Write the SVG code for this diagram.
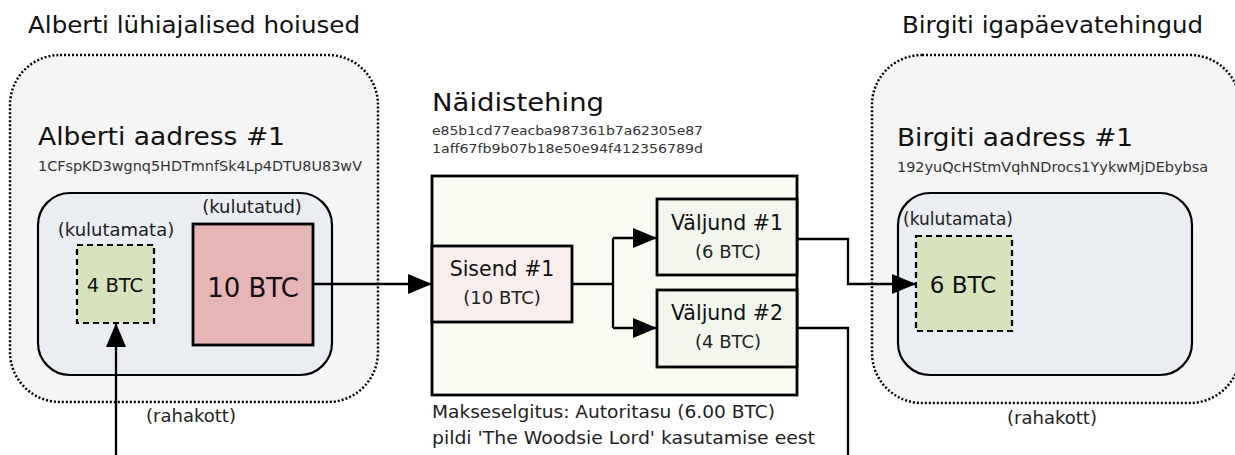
<svg xmlns="http://www.w3.org/2000/svg" width="1235" height="455" viewBox="0 0 1235 455">
<style>
text{font-family:"DejaVu Sans","Liberation Sans",sans-serif;fill:#111}
.h1{font-size:23px}
.h2{font-size:25px}
.addr{font-size:14px;fill:#333}
.lbl{font-size:18px;fill:#222}
.box{font-size:20.5px}
.sub{font-size:18px;fill:#222}
.wallet{fill:#f5f5f5;stroke:#000;stroke-width:2.5;stroke-dasharray:2 2}
.addrbox{fill:#eaedf2;stroke:#000;stroke-width:2.2}
.unspent{fill:#d6e3bc;stroke:#000;stroke-width:2.2;stroke-dasharray:6 4}
.spent{fill:#e6b5b5;stroke:#000;stroke-width:2.8}
.tx{fill:#fafaf2;stroke:#000;stroke-width:2.8}
.in{fill:#f9eded;stroke:#000;stroke-width:2.8}
.out{fill:#f3f6ed;stroke:#000;stroke-width:2.8}
.conn path{fill:none;stroke:#000;stroke-width:2.3}
</style>
<defs>
<marker id="arr" markerUnits="userSpaceOnUse" markerWidth="24" markerHeight="20" refX="24" refY="10" orient="auto">
<path d="M0,0 L24,10 L0,20 z" fill="#000"/>
</marker>
</defs>

<g id="albert-wallet">
<rect class="wallet" x="10" y="55" width="368" height="347" rx="50"/>
<text class="h1" x="28" y="33" textLength="332" lengthAdjust="spacingAndGlyphs">Alberti lühiajalised hoiused</text>
<text class="lbl" x="191" y="422" text-anchor="middle">(rahakott)</text>
</g>

<g id="albert-address">
<text class="h2" x="38" y="145" textLength="247" lengthAdjust="spacingAndGlyphs">Alberti aadress #1</text>
<text class="addr" x="38" y="171" textLength="324" lengthAdjust="spacingAndGlyphs">1CFspKD3wgnq5HDTmnfSk4Lp4DTU8U83wV</text>
<rect class="addrbox" x="38" y="193" width="294" height="182" rx="32"/>
</g>

<g id="albert-4btc">
<text class="lbl" x="116" y="236" text-anchor="middle">(kulutamata)</text>
<rect class="unspent" x="77" y="245" width="77" height="78"/>
<text x="115" y="292" text-anchor="middle" style="font-size:19.5px">4 BTC</text>
</g>

<g id="albert-10btc">
<text class="lbl" x="252" y="213" text-anchor="middle">(kulutatud)</text>
<rect class="spent" x="193" y="224" width="120" height="121"/>
<text x="253" y="297" text-anchor="middle" style="font-size:26px">10 BTC</text>
</g>

<g id="transaction">
<rect class="tx" x="432" y="176" width="365" height="219"/>
<text x="432" y="111" style="font-size:24px" textLength="172" lengthAdjust="spacingAndGlyphs">Näidistehing</text>
<text class="addr" x="432" y="135" style="font-size:13px" textLength="271" lengthAdjust="spacingAndGlyphs">e85b1cd77eacba987361b7a62305e87</text>
<text class="addr" x="432" y="153" style="font-size:13px" textLength="271" lengthAdjust="spacingAndGlyphs">1aff67fb9b07b18e50e94f412356789d</text>
<text class="lbl" x="432" y="418" style="font-size:17px" textLength="343" lengthAdjust="spacingAndGlyphs">Makseselgitus: Autoritasu (6.00 BTC)</text>
<text class="lbl" x="432" y="444" style="font-size:17px" textLength="383" lengthAdjust="spacingAndGlyphs">pildi 'The Woodsie Lord' kasutamise eest</text>
</g>

<g id="input1">
<rect class="in" x="432" y="246" width="140" height="76"/>
<text class="box" x="502" y="276" text-anchor="middle">Sisend #1</text>
<text class="sub" x="502" y="304" text-anchor="middle">(10 BTC)</text>
</g>

<g id="output1">
<rect class="out" x="657" y="199" width="140" height="76"/>
<text class="box" x="727" y="230" text-anchor="middle">Väljund #1</text>
<text class="sub" x="728" y="258" text-anchor="middle">(6 BTC)</text>
</g>

<g id="output2">
<rect class="out" x="657" y="290" width="140" height="77"/>
<text class="box" x="727" y="320" text-anchor="middle">Väljund #2</text>
<text class="sub" x="728" y="348" text-anchor="middle">(4 BTC)</text>
</g>

<g id="birgit-wallet">
<rect class="wallet" x="872" y="55" width="368" height="348" rx="50"/>
<text class="h1" x="902" y="33" textLength="301" lengthAdjust="spacingAndGlyphs">Birgiti igapäevatehingud</text>
<text class="lbl" x="1052" y="424" text-anchor="middle">(rahakott)</text>
</g>

<g id="birgit-address">
<text class="h2" x="897" y="146" textLength="236" lengthAdjust="spacingAndGlyphs">Birgiti aadress #1</text>
<text class="addr" x="897" y="172" textLength="311" lengthAdjust="spacingAndGlyphs">192yuQcHStmVqhNDrocs1YykwMjDEbybsa</text>
<rect class="addrbox" x="898" y="193" width="294" height="182" rx="32"/>
</g>

<g id="birgit-6btc">
<text class="lbl" x="903" y="225" textLength="110" lengthAdjust="spacingAndGlyphs">(kulutamata)</text>
<rect class="unspent" x="916" y="236" width="96" height="95"/>
<text x="963" y="293" text-anchor="middle" style="font-size:23px">6 BTC</text>
</g>

<g id="connectors" class="conn">
<path d="M313 284 H432" marker-end="url(#arr)"/>
<path d="M572 284 H613"/>
<path d="M613 238 V328"/>
<path d="M613 238 H657" marker-end="url(#arr)"/>
<path d="M613 328 H657" marker-end="url(#arr)"/>
<path d="M797 239 H848 V284 H916" marker-end="url(#arr)"/>
<path d="M797 328 H848 V455"/>
<path d="M116 455 V323" marker-end="url(#arr)"/>
</g>
</svg>
